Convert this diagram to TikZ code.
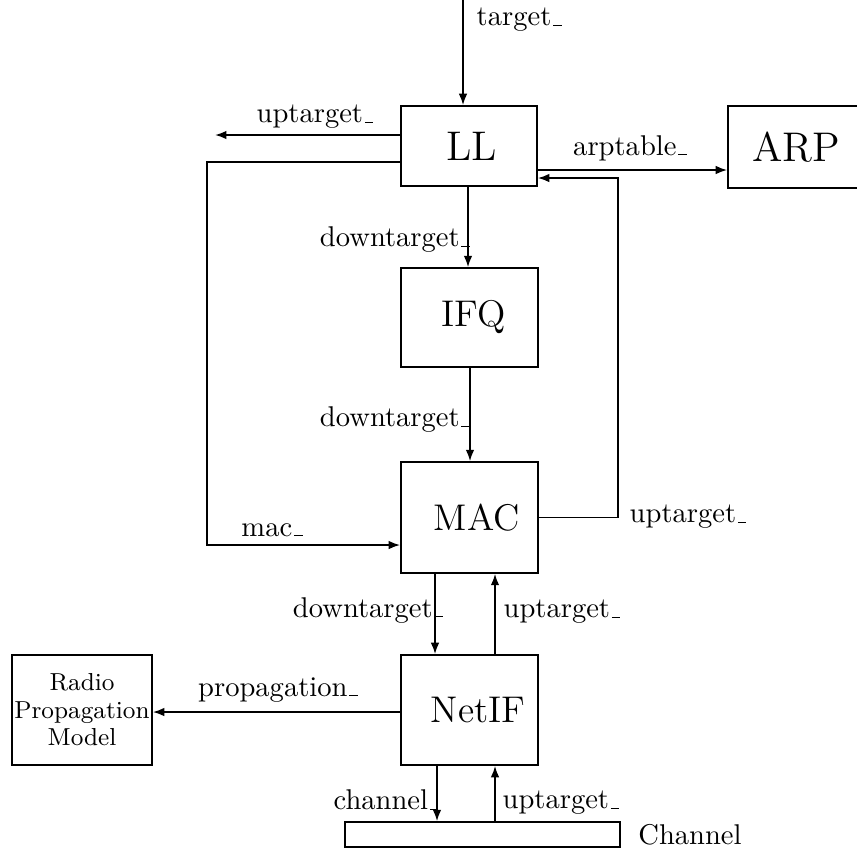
\documentclass[tikz,border=0pt]{standalone}
\usepackage{amsmath}
\usepackage{amssymb}
\usetikzlibrary{shapes,arrows.meta}

\newcommand{\ubar}{\leavevmode\kern.06em\vbox{\hrule width.3em}}

\begin{document}
\begin{tikzpicture}[x=0.35pt, y=-0.35pt, >={Latex[length=4pt,width=3pt]}, semithick]
\tikzset{
  blk/.style={shape=rectangle, draw, inner sep=0pt, font=\fontsize{13}{15}\selectfont},
  lbl/.style={inner sep=1pt}
}
\useasboundingbox (0,0) rectangle (857,848);

\node (ll) at (469,146) [blk, minimum width=47.6pt, minimum height=28pt, font=\fontsize{14.5}{17}\selectfont]{\hspace*{2pt}LL};
\node (arp) at (796,147) [blk, minimum width=47.6pt, minimum height=28.7pt, font=\fontsize{14.5}{17}\selectfont]{ARP};
\node (ifq) at (469.5,317.5) [blk, minimum width=48pt, minimum height=34.6pt]{\hspace*{3pt}IFQ};
\node (mac) at (469.5,517.5) [blk, minimum width=48pt, minimum height=38.8pt]{\hspace*{5pt}MAC};
\node (netif) at (469.5,710) [blk, minimum width=48pt, minimum height=38.5pt]{\hspace*{6pt}NetIF};
\node (radio) at (82,710) [shape=rectangle, draw, minimum width=49pt, minimum height=38.5pt, align=center, font=\fontsize{8.6}{9.6}\selectfont, inner sep=0pt]{Radio\\Propagation\\Model};
\node (chan) at (482.5,834.5) [shape=rectangle, draw, minimum width=96.2pt, minimum height=8.7pt, inner sep=0pt]{};

\coordinate (top) at (463,0);
\coordinate (out) at (215,135);
\coordinate (lft) at (207,162);
\coordinate (rgt) at (618,178);

% LL
\draw [->] (top) -- (top |- ll.north);
\draw [->] (ll.west |- out) -- (out);
\draw [->] (ll.east |- 0,170) -- (arp.west |- 0,170);
\draw [->] (468,0 |- ll.south) -- (468,0 |- ifq.north);
\draw [->] (470,0 |- ifq.south) -- (470,0 |- mac.north);

% loops
\draw [->] (ll.west |- lft) -- (lft) -- (lft |- 0,545) -- (mac.west |- 0,545);
\draw [->] (mac.east) -- (rgt |- mac.east) -- (rgt) -- (ll.east |- rgt);

% MAC / NetIF
\draw [->] (435,0 |- mac.south) -- (435,0 |- netif.north);
\draw [->] (495,0 |- netif.north) -- (495,0 |- mac.south);
\draw [->] (netif.west |- 0,712) -- (radio.east |- 0,712);
\draw [->] (437,0 |- netif.south) -- (437,0 |- chan.north);
\draw [->] (495,0 |- chan.north) -- (495,0 |- netif.south);

% labels
\node (l1) at (473,20) [lbl, anchor=west]{target\ubar};
\node (l2) at (315,117) [lbl]{uptarget\ubar};
\node (l3) at (630,148) [lbl]{arptable\ubar};
\node (l4) at (395,240) [lbl]{downtarget\ubar};
\node (l5) at (395,420) [lbl]{downtarget\ubar};
\node (l6) at (272,530) [lbl]{mac\ubar};
\node (l7) at (626,517) [lbl, anchor=west]{uptarget\ubar};
\node (l8) at (368,610) [lbl]{downtarget\ubar};
\node (l9) at (562,612) [lbl]{uptarget\ubar};
\node (l10) at (278,690) [lbl]{propagation\ubar};
\node (l11) at (386,800) [lbl]{channel\ubar};
\node (l12) at (561,803) [lbl]{uptarget\ubar};
\node (l13) at (690,835) [lbl]{Channel};
\end{tikzpicture}
\end{document}
